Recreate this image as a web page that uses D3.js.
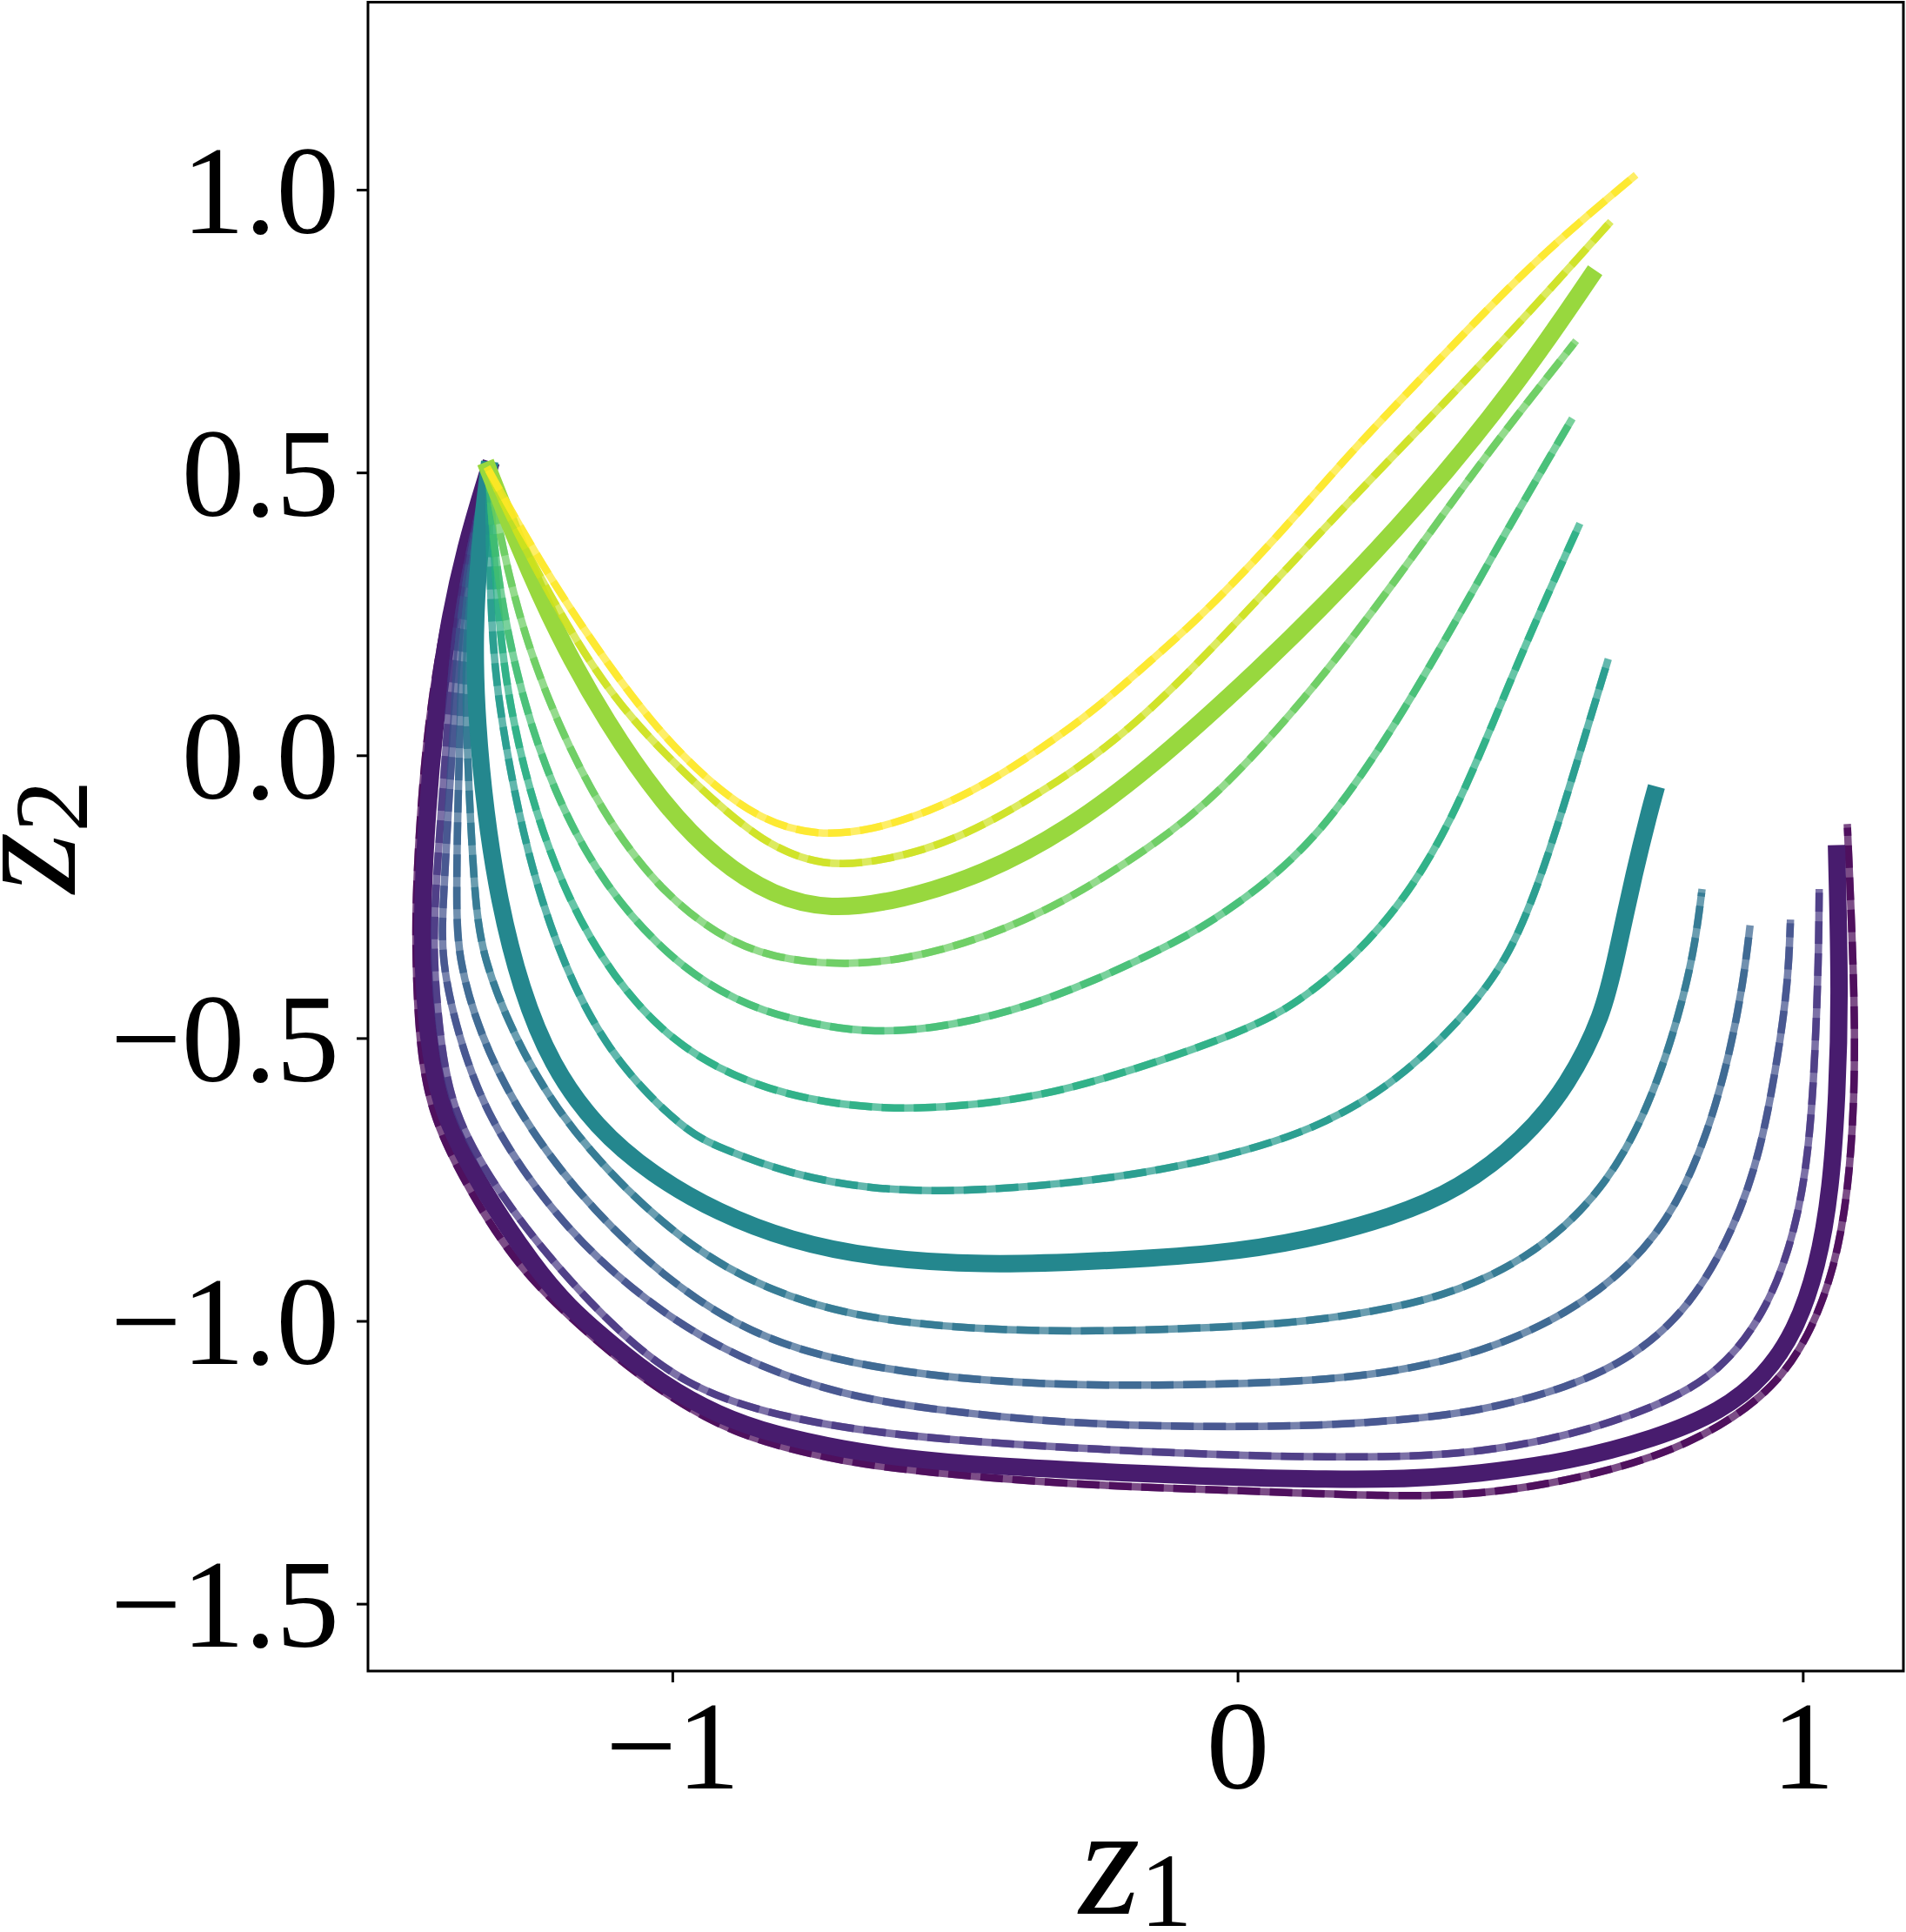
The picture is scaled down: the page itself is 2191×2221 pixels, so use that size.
<!DOCTYPE html>
<html>
<head>
<meta charset="utf-8">
<script src="https://cdn.jsdelivr.net/npm/d3@7"></script>
<style>
    body { margin: 0; background: #ffffff; }
</style>
</head>
<body>
<div id="divChart"></div>
<script>
// trajectories in the (z1, z2) plane, from the top (yellow) one to the bottom (purple) one
var traj01 = [[-1.325,0.504],[-1.233,0.339],[-1.135,0.190],[-1.037,0.057],[-0.939,-0.045],[-0.841,-0.116],[-0.743,-0.143],[-0.645,-0.132],[-0.546,-0.100],[-0.448,-0.053],[-0.350,0.010],[-0.252,0.080],[-0.154,0.167],[-0.056,0.253],[0.082,0.399],[0.200,0.536],[0.318,0.659],[0.435,0.782],[0.553,0.899],[0.700,1.022]];
var traj02 = [[-1.325,0.504],[-1.273,0.386],[-1.165,0.190],[-1.076,0.065],[-0.949,-0.061],[-0.841,-0.155],[-0.733,-0.198],[-0.625,-0.187],[-0.498,-0.151],[-0.350,-0.069],[-0.203,0.033],[-0.056,0.175],[0.200,0.453],[0.435,0.693],[0.656,0.939]];
var traj03 = [[-1.325,0.504],[-1.273,0.371],[-1.204,0.214],[-1.116,0.057],[-1.018,-0.085],[-0.919,-0.187],[-0.821,-0.249],[-0.723,-0.274],[-0.596,-0.257],[-0.448,-0.210],[-0.301,-0.132],[-0.154,-0.022],[0.011,0.127],[0.141,0.252],[0.318,0.438],[0.494,0.654],[0.624,0.845]];
var traj04 = [[-1.325,0.504],[-1.302,0.371],[-1.263,0.214],[-1.204,0.057],[-1.125,-0.100],[-1.027,-0.234],[-0.919,-0.320],[-0.821,-0.359],[-0.704,-0.371],[-0.596,-0.363],[-0.448,-0.324],[-0.301,-0.257],[-0.154,-0.163],[-0.035,-0.072],[0.141,0.124],[0.288,0.320],[0.435,0.526],[0.595,0.728]];
var traj05 = [[-1.325,0.504],[-1.317,0.371],[-1.292,0.214],[-1.253,0.057],[-1.194,-0.100],[-1.116,-0.234],[-1.027,-0.336],[-0.939,-0.406],[-0.841,-0.454],[-0.723,-0.481],[-0.645,-0.489],[-0.546,-0.485],[-0.399,-0.454],[-0.252,-0.399],[-0.105,-0.328],[-0.035,-0.288],[0.141,-0.160],[0.318,0.114],[0.465,0.379],[0.589,0.590]];
var traj06 = [[-1.325,0.504],[-1.307,0.214],[-1.282,0.057],[-1.243,-0.100],[-1.184,-0.257],[-1.106,-0.391],[-1.008,-0.501],[-0.890,-0.571],[-0.762,-0.610],[-0.625,-0.626],[-0.498,-0.622],[-0.350,-0.603],[-0.203,-0.563],[0.011,-0.489],[0.118,-0.433],[0.259,-0.308],[0.377,-0.131],[0.494,0.164],[0.603,0.404]];
var traj07 = [[-1.325,0.504],[-1.322,0.214],[-1.302,0.057],[-1.273,-0.100],[-1.233,-0.257],[-1.174,-0.414],[-1.096,-0.548],[-0.978,-0.664],[-0.919,-0.693],[-0.792,-0.741],[-0.645,-0.768],[-0.498,-0.772],[-0.301,-0.758],[-0.105,-0.730],[0.120,-0.672],[0.275,-0.583],[0.391,-0.473],[0.485,-0.356],[0.553,-0.170],[0.612,0.026],[0.654,0.164]];
var traj08 = [[-1.325,0.504],[-1.341,0.371],[-1.351,0.214],[-1.346,0.057],[-1.331,-0.100],[-1.307,-0.257],[-1.268,-0.414],[-1.214,-0.548],[-1.135,-0.658],[-1.037,-0.741],[-0.919,-0.809],[-0.792,-0.858],[-0.645,-0.889],[-0.448,-0.902],[-0.252,-0.895],[-0.035,-0.882],[0.120,-0.858],[0.275,-0.816],[0.391,-0.768],[0.507,-0.679],[0.585,-0.583],[0.647,-0.459],[0.670,-0.356],[0.703,-0.202],[0.729,-0.099],[0.737,-0.070]];
var traj09 = [[-1.325,0.504],[-1.348,0.371],[-1.365,0.214],[-1.365,0.057],[-1.358,-0.100],[-1.349,-0.257],[-1.336,-0.356],[-1.282,-0.494],[-1.204,-0.631],[-1.086,-0.768],[-0.939,-0.892],[-0.792,-0.961],[-0.645,-0.998],[-0.448,-1.016],[-0.252,-1.019],[-0.035,-1.012],[0.120,-1.002],[0.275,-0.978],[0.391,-0.947],[0.507,-0.892],[0.610,-0.809],[0.690,-0.700],[0.750,-0.562],[0.790,-0.425],[0.810,-0.330],[0.821,-0.243]];
var traj10 = [[-1.325,0.504],[-1.351,0.371],[-1.372,0.214],[-1.375,0.057],[-1.380,-0.100],[-1.382,-0.257],[-1.380,-0.356],[-1.341,-0.494],[-1.273,-0.631],[-1.174,-0.768],[-1.037,-0.906],[-0.890,-1.009],[-0.743,-1.064],[-0.546,-1.098],[-0.350,-1.112],[-0.154,-1.115],[0.120,-1.108],[0.275,-1.091],[0.430,-1.057],[0.585,-0.988],[0.701,-0.899],[0.778,-0.796],[0.833,-0.665],[0.871,-0.528],[0.895,-0.400],[0.906,-0.307]];
var traj11 = [[-1.325,0.504],[-1.355,0.371],[-1.380,0.214],[-1.386,0.057],[-1.397,-0.100],[-1.405,-0.257],[-1.410,-0.356],[-1.380,-0.494],[-1.331,-0.631],[-1.243,-0.768],[-1.135,-0.892],[-0.988,-1.009],[-0.841,-1.084],[-0.694,-1.132],[-0.546,-1.156],[-0.350,-1.177],[-0.154,-1.187],[0.120,-1.187],[0.275,-1.177],[0.430,-1.160],[0.585,-1.118],[0.701,-1.064],[0.802,-0.974],[0.879,-0.837],[0.926,-0.700],[0.957,-0.528],[0.974,-0.400],[0.978,-0.297]];
var traj12 = [[-1.325,0.504],[-1.358,0.371],[-1.386,0.214],[-1.397,0.057],[-1.409,-0.100],[-1.420,-0.257],[-1.423,-0.356],[-1.412,-0.494],[-1.390,-0.631],[-1.312,-0.768],[-1.204,-0.906],[-1.086,-1.029],[-0.978,-1.112],[-0.841,-1.163],[-0.645,-1.198],[-0.448,-1.215],[-0.252,-1.227],[0.011,-1.239],[0.275,-1.242],[0.430,-1.232],[0.585,-1.204],[0.740,-1.153],[0.856,-1.091],[0.941,-0.974],[0.988,-0.837],[1.011,-0.700],[1.022,-0.528],[1.028,-0.356],[1.029,-0.243]];
var traj13 = [[-1.325,0.504],[-1.366,0.371],[-1.400,0.214],[-1.420,0.057],[-1.434,-0.100],[-1.442,-0.257],[-1.442,-0.356],[-1.434,-0.494],[-1.410,-0.631],[-1.337,-0.768],[-1.243,-0.906],[-1.185,-0.974],[-1.106,-1.043],[-1.018,-1.112],[-0.919,-1.167],[-0.821,-1.201],[-0.694,-1.228],[-0.596,-1.242],[-0.448,-1.256],[-0.252,-1.266],[-0.035,-1.276],[0.275,-1.283],[0.430,-1.270],[0.585,-1.249],[0.740,-1.208],[0.856,-1.160],[0.933,-1.098],[0.988,-1.016],[1.026,-0.906],[1.050,-0.768],[1.061,-0.597],[1.066,-0.425],[1.060,-0.174]];
var traj14 = [[-1.325,0.504],[-1.372,0.371],[-1.408,0.214],[-1.432,0.057],[-1.446,-0.100],[-1.454,-0.257],[-1.454,-0.356],[-1.449,-0.494],[-1.430,-0.631],[-1.361,-0.768],[-1.273,-0.906],[-1.165,-1.009],[-1.057,-1.100],[-0.939,-1.175],[-0.841,-1.215],[-0.694,-1.250],[-0.546,-1.268],[-0.350,-1.285],[-0.154,-1.295],[0.011,-1.300],[0.275,-1.311],[0.430,-1.307],[0.585,-1.283],[0.740,-1.242],[0.856,-1.187],[0.949,-1.118],[1.011,-1.029],[1.057,-0.906],[1.081,-0.768],[1.092,-0.597],[1.092,-0.425],[1.079,-0.128]];

var trajectories = [traj01, traj02, traj03, traj04, traj05, traj06, traj07,
                    traj08, traj09, traj10, traj11, traj12, traj13, traj14];

// position of each trajectory on the viridis colour map
var levels = [1.000, 0.923, 0.846, 0.769, 0.692, 0.615, 0.538, 0.462, 0.385, 0.308, 0.231, 0.154, 0.077, 0.000];

// trajectories drawn with a heavy line
var highlighted = [2, 7, 12];

// axis limits and tick labels
var xLimits = [-1.5385, 1.178];
var yLimits = [-1.619, 1.3315];
var xTicks = [-1, 0, 1];
var yTicks = [-1.5, -1.0, -0.5, 0.0, 0.5, 1.0];

function init()
{
    var chartPlace = document.getElementById("divChart");

    var width = 2191;
    var height = 2221;
    var left = 423, right = 2188, top = 2.5, bottom = 1921;
    var font = "'Liberation Serif', 'DejaVu Serif', serif";

    var svg = d3.select(chartPlace).append("svg")
        .attr("width", width)
        .attr("height", height);

    var scaleX = d3.scaleLinear().domain(xLimits).range([left, right]);
    var scaleY = d3.scaleLinear().domain(yLimits).range([bottom, top]);

    svg.append("clipPath").attr("id", "plotClip")
        .append("rect")
        .attr("x", left).attr("y", top)
        .attr("width", right - left).attr("height", bottom - top);

    // smooth path through the read points
    var line = d3.line()
        .x(function(d){ return scaleX(d[0]); })
        .y(function(d){ return scaleY(d[1]); })
        .curve(d3.curveBasis);

    var plot = svg.append("g").attr("clip-path", "url(#plotClip)");

    // purple ones first, yellow ones last
    for (var i = trajectories.length - 1; i >= 0; i--)
    {
        var col = d3.interpolateViridis(levels[i]);
        if (highlighted.indexOf(i) >= 0)
        {
            plot.append("path")
                .attr("d", line(trajectories[i]))
                .style("fill", "none")
                .style("stroke", col)
                .style("stroke-width", 20)
                .style("stroke-linecap", "square")
                .style("stroke-linejoin", "round");
        }
        else
        {
            // solid line and its dashed twin, both see-through
            plot.append("path")
                .attr("d", line(trajectories[i]))
                .style("fill", "none")
                .style("stroke", col)
                .style("stroke-opacity", 0.7)
                .style("stroke-width", 8.5)
                .style("stroke-linecap", "square")
                .style("stroke-linejoin", "round");
            plot.append("path")
                .attr("d", line(trajectories[i]))
                .style("fill", "none")
                .style("stroke", col)
                .style("stroke-opacity", 0.8)
                .style("stroke-width", 8.5)
                .style("stroke-dasharray", "26,11")
                .style("stroke-linecap", "butt")
                .style("stroke-linejoin", "round");
        }
    }

    // axes
    var xAxis = d3.axisBottom(scaleX)
        .tickValues(xTicks)
        .tickFormat(d3.format("d"))
        .tickSize(13)
        .tickPadding(19);

    var yAxis = d3.axisLeft(scaleY)
        .tickValues(yTicks)
        .tickFormat(d3.format(".1f"))
        .tickSize(13)
        .tickPadding(20);

    var gx = svg.append("g")
        .attr("class", "x-axis")
        .attr("transform", "translate(0," + bottom + ")")
        .call(xAxis);

    var gy = svg.append("g")
        .attr("class", "y-axis")
        .attr("transform", "translate(" + left + ",0)")
        .call(yAxis);

    [gx, gy].forEach(function(g){
        g.select(".domain").remove();
        g.selectAll(".tick line").style("stroke", "#000").style("stroke-width", 3);
        g.selectAll(".tick text")
            .style("font-family", font)
            .style("font-size", "145px")
            .style("fill", "#000");
    });
    gy.selectAll(".tick text").attr("dy", "0.34em");

    // frame
    svg.append("rect")
        .attr("x", left).attr("y", top)
        .attr("width", right - left).attr("height", bottom - top)
        .style("fill", "none")
        .style("stroke", "#000")
        .style("stroke-width", 3);

    // axis titles
    var xt = svg.append("text")
        .attr("x", (left + right) / 2)
        .attr("y", 2200)
        .attr("text-anchor", "middle")
        .style("font-family", font)
        .style("font-size", "180px");
    xt.append("tspan").style("font-style", "italic").text("z");
    xt.append("tspan").attr("dy", 14).style("font-size", "120px").text("1");

    var yt = svg.append("text")
        .attr("transform", "translate(86," + ((top + bottom) / 2) + ") rotate(-90)")
        .attr("text-anchor", "middle")
        .style("font-family", font)
        .style("font-size", "180px");
    yt.append("tspan").style("font-style", "italic").text("z");
    yt.append("tspan").attr("dy", 14).style("font-size", "120px").text("2");
}

window.onload = init;
</script>
</body>
</html>
